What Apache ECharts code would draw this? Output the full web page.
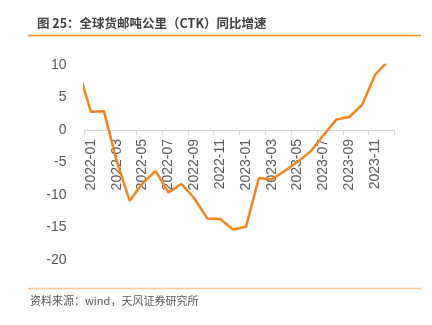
<!DOCTYPE html>
<html>
<head>
<meta charset="utf-8">
<script src="https://cdn.jsdelivr.net/npm/echarts@6/dist/echarts.min.js"></script>
<style>
  html, body { margin: 0; padding: 0; background: #fff; }
  #chart { width: 432px; height: 325px; }
</style>
</head>
<body>
<div id="chart"></div>
<script>
// Months (the leading 2021-12 point sits just left of the visible axis range)
const months = [
  '2021-12',
  '2022-01', '2022-02', '2022-03', '2022-04', '2022-05', '2022-06',
  '2022-07', '2022-08', '2022-09', '2022-10', '2022-11', '2022-12',
  '2023-01', '2023-02', '2023-03', '2023-04', '2023-05', '2023-06',
  '2023-07', '2023-08', '2023-09', '2023-10', '2023-11', '2023-12'
];

// Global CTK year-on-year growth, %
const ctkYoY = [
  9.4,
  2.8, 2.9, -4.8, -10.9, -8.2, -6.3,
  -9.6, -8.3, -10.5, -13.6, -13.7, -15.3,
  -14.9, -7.4, -7.6, -6.3, -4.9, -3.3,
  -0.8, 1.6, 2.0, 3.9, 8.5, 10.6
];

const yTicks = { min: -20, max: 10, step: 5 };

const titleText = '图 25：全球货邮吨公里（CTK）同比增速';
const sourceText = '资料来源：wind，天风证券研究所';

const gridTop = 65;
const gridBottom = 65;
const plotHeight = 325 - gridTop - gridBottom;
// Lift the category axis from the bottom edge up to the zero line
const zeroOffset = plotHeight * (0 - yTicks.min) / (yTicks.max - yTicks.min);

const chart = echarts.init(document.getElementById('chart'), null, { renderer: 'canvas' });

const everyOther = (index) => index % 2 === 1;

chart.setOption({
  animation: false,
  backgroundColor: '#ffffff',
  textStyle: { fontFamily: 'Liberation Sans, Arial, sans-serif' },
  grid: { left: 84.5, right: 37.5, top: gridTop, bottom: gridBottom, containLabel: false },
  xAxis: {
    type: 'category',
    data: months,
    min: 1,
    boundaryGap: true,
    position: 'bottom',
    offset: -zeroOffset,
    axisLine: { onZero: false, lineStyle: { color: '#d9d9d9', width: 1 } },
    axisTick: { show: true, interval: everyOther, length: 5, lineStyle: { color: '#d9d9d9' } },
    axisLabel: {
      interval: everyOther,
      rotate: 90,
      margin: 9,
      color: '#595959',
      fontSize: 14,
      fontFamily: 'Liberation Sans, Arial, sans-serif'
    },
    splitLine: { show: false }
  },
  yAxis: {
    type: 'value',
    min: yTicks.min,
    max: yTicks.max,
    interval: yTicks.step,
    axisLine: { show: false },
    axisTick: { show: false },
    splitLine: { show: false },
    axisLabel: {
      margin: 18,
      color: '#595959',
      fontSize: 14,
      fontFamily: 'Liberation Sans, Arial, sans-serif'
    }
  },
  series: [{
    type: 'line',
    data: ctkYoY,
    clip: true,
    symbol: 'none',
    lineStyle: { color: '#f5841f', width: 2.5 },
    itemStyle: { color: '#f5841f' }
  }],
  graphic: [
    {
      type: 'text',
      left: 37, top: 17,
      style: {
        text: titleText,
        font: 'bold 12.5px "Noto Sans CJK SC", sans-serif',
        fill: '#404040'
      }
    },
    {
      type: 'line',
      shape: { x1: 28, y1: 35.5, x2: 421, y2: 35.5 },
      style: { stroke: '#f08a24', lineWidth: 1.5 }
    },
    {
      type: 'line',
      shape: { x1: 28, y1: 288.5, x2: 421, y2: 288.5 },
      style: { stroke: '#f9c99c', lineWidth: 1.5 }
    },
    {
      type: 'text',
      left: 30, top: 295,
      style: {
        text: sourceText,
        font: '11px "Noto Sans CJK SC", sans-serif',
        fill: '#595959'
      }
    }
  ]
});
</script>
</body>
</html>
